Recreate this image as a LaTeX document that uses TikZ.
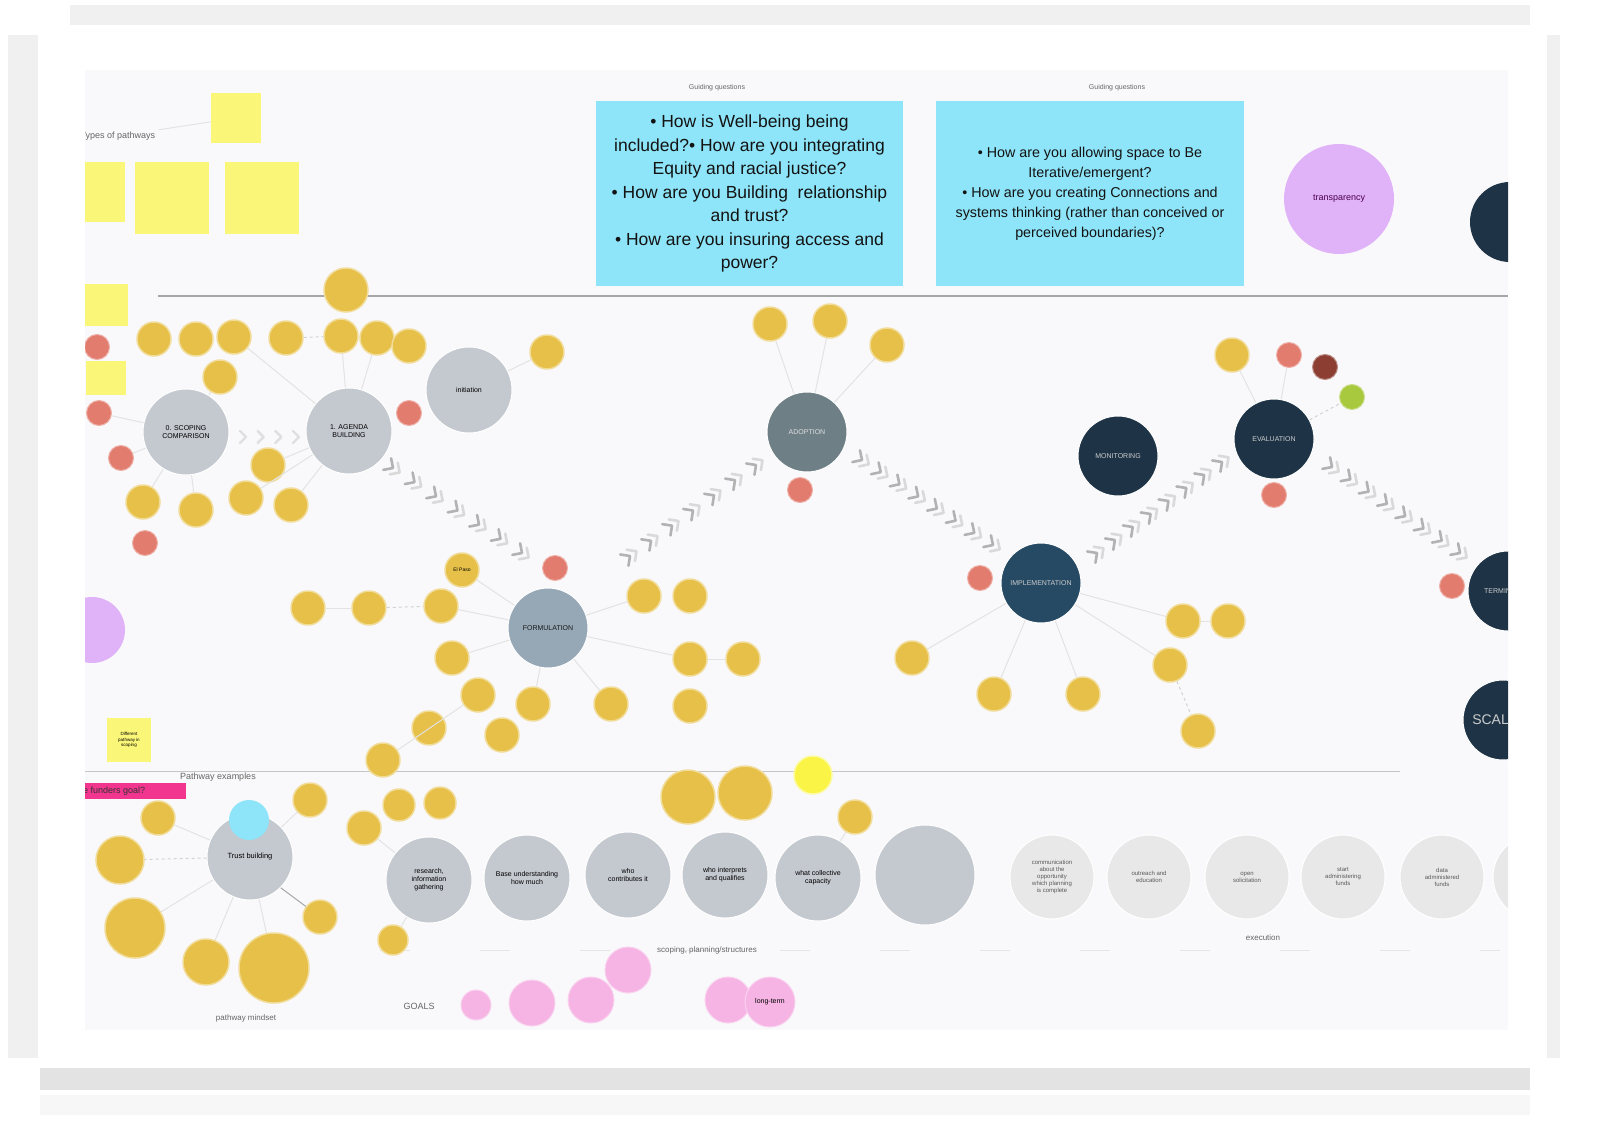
\documentclass[tikz,border=0pt]{standalone}
\usepackage{fontspec}
\setmainfont{Liberation Sans}
\usetikzlibrary{calc}

\definecolor{satyellow}{RGB}{230,192,72}
\definecolor{brightyellow}{RGB}{250,244,70}
\definecolor{salmon}{RGB}{226,124,110}
\definecolor{rust}{RGB}{140,62,50}
\definecolor{lime}{RGB}{168,200,62}
\definecolor{stickyyellow}{RGB}{250,246,120}
\definecolor{qblue}{RGB}{142,228,248}
\definecolor{lilac}{RGB}{224,178,248}
\definecolor{hubgray}{RGB}{196,200,207}
\definecolor{adoptgray}{RGB}{110,127,134}
\definecolor{formulblue}{RGB}{150,168,182}
\definecolor{navy}{RGB}{30,52,70}
\definecolor{implblue}{RGB}{38,74,99}
\definecolor{goalpink}{RGB}{246,180,228}
\definecolor{hotpink}{RGB}{242,54,143}
\definecolor{palegray}{RGB}{232,232,233}
\definecolor{board}{RGB}{249,249,251}

\tikzset{
  hub/.style={circle, fill=#1, draw=white, line width=1pt, minimum size=86pt, inner sep=0pt, align=center, font=\fontsize{7}{8}\selectfont},
  sat/.style={circle, fill=satyellow, draw=satyellow!55!white, line width=1.5pt, minimum size=#1, inner sep=0pt, align=center, font=\fontsize{4.5}{5.5}\selectfont},
  sat/.default=34pt,
  dot/.style={circle, fill=#1, draw=#1!60!white, line width=1pt, minimum size=25pt, inner sep=0pt},
  dot/.default=salmon,
  goal/.style={circle, fill=goalpink, draw=goalpink!60!white, line width=1pt, minimum size=#1, inner sep=0pt, align=center, font=\fontsize{4.5}{5.5}\selectfont},
  goal/.default=46pt,
  stickynote/.style={fill=stickyyellow, inner sep=2pt, align=center, font=\fontsize{4.5}{5.5}\selectfont},
  link/.style={draw=gray!22, line width=1pt},
  dashlink/.style={draw=gray!35, line width=1pt, dashed},
  caption/.style={font=\fontsize{8}{9}\selectfont, text=gray!80!black},
  chev/.pic={
    \draw[gray!60, line width=2.6pt, line cap=round, line join=round] (-7,7)--(0,0)--(-7,-7);
    \draw[gray!30, line width=2.6pt, line cap=round, line join=round] (1,7)--(8,0)--(1,-7);
  },
  faintchev/.pic={
    \draw[gray!25, line width=2.4pt, line cap=round, line join=round] (-5,6)--(1,0)--(-5,-6);
  }
}

\begin{document}
\begin{tikzpicture}[x=1pt, y=-1pt]
\useasboundingbox (0,0) rectangle (1605,1143);
\fill[white] (0,0) rectangle (1605,1143);
% frame bands
\fill[gray!12] (70,5) rectangle (1530,25);
\fill[gray!12] (8,35) rectangle (38,1058);
\fill[gray!12] (1547,35) rectangle (1560,1058);
\fill[gray!22] (40,1068) rectangle (1530,1090);
\fill[gray!6] (40,1095) rectangle (1530,1115);

\begin{scope}
\clip (85,70) rectangle (1508,1030);
\fill[board] (85,70) rectangle (1508,1030);

% dividing lines
\draw[gray!70, line width=1.2pt] (158,296) -- (1508,296);
\draw[gray!45, line width=1pt] (85,771) -- (1400,771);
\draw[gray!20, line width=1pt, dash pattern=on 30pt off 70pt] (380,950) -- (1500,950);

% guiding questions
\node[caption, font=\fontsize{7}{8}\selectfont] at (717,88) {Guiding questions};
\node[caption, font=\fontsize{7}{8}\selectfont] at (1117,88) {Guiding questions};
\node[fill=qblue, minimum width=307pt, minimum height=185pt, inner sep=0pt, align=center,
      font=\fontsize{17.5}{23.5}\selectfont, text=gray!15!black] (qone) at (749.5,193.5)
  {• How is Well-being being\\included?• How are you integrating\\Equity and racial justice?\\• How are you Building\ \ relationship\\and trust?\\• How are you insuring access and\\power?};
\node[fill=qblue, minimum width=308pt, minimum height=185pt, inner sep=0pt, align=center,
      font=\fontsize{14.3}{20}\selectfont, text=gray!15!black] (qtwo) at (1090,193.5)
  {• How are you allowing space to Be\\Iterative/emergent?\\• How are you creating Connections and\\systems thinking (rather than conceived or\\perceived boundaries)?};
\node[circle, fill=lilac, minimum size=110pt, font=\fontsize{9}{10}\selectfont, text=violet!60!black] (transp) at (1339,199) {transparency};
\node[circle, fill=navy, minimum size=80pt] (topright) at (1510,222) {};

% left notes
\node[caption, anchor=west, font=\fontsize{9}{10}\selectfont] (types) at (77,136) {Types of pathways};
\node[stickynote, minimum width=50pt, minimum height=50pt] (n1) at (236,118) {};
\node[stickynote, minimum width=42pt, minimum height=60pt] (n2) at (104,192) {};
\node[stickynote, minimum width=74pt, minimum height=72pt] (n3) at (172,198) {};
\node[stickynote, minimum width=74pt, minimum height=72pt] (n4) at (262,198) {};
\node[stickynote, minimum width=44pt, minimum height=42pt] (n5) at (106,305) {};
\node[stickynote, minimum width=40pt, minimum height=34pt] (n6) at (106,378) {};
\node[stickynote, minimum width=44pt, minimum height=44pt] (n7) at (129,740) {Different\\pathway in\\scoping};
\node[circle, fill=lilac, minimum size=66pt] (leftlilac) at (92,630) {};
\draw[link] (types) -- (n1);

% stages
\node[hub=hubgray] (scope) at (186,432) {0. SCOPING\\COMPARISON};
\node[hub=hubgray] (agenda) at (349,431) {1. AGENDA\\BUILDING};
\node[hub=hubgray] (init) at (469,390) {initiation};
\node[hub=adoptgray, minimum size=80pt, text=gray!25] (adopt) at (807,432) {ADOPTION};
\node[hub=formulblue, minimum size=80pt, text=gray!20!black] (formul) at (548,628) {FORMULATION};
\node[hub=navy, minimum size=80pt, text=gray!40] (monit) at (1118,456) {MONITORING};
\node[hub=navy, minimum size=80pt, text=gray!40] (evalu) at (1274,439) {EVALUATION};
\node[hub=implblue, minimum size=80pt, text=gray!40] (impl) at (1041,583) {IMPLEMENTATION};
\node[hub=navy, minimum size=80pt, text=gray!40] (term) at (1508,591) {TERMINATION};
\node[hub=navy, minimum size=80pt, text=gray!40, font=\fontsize{14}{15}\selectfont] (scal) at (1503,720) {SCALING};

% yellow satellites
\foreach \n/\x/\y in {t2/154/339, t3/196/339, t4/234/337, t5/286/338, t6/341/336, t7/377/338,
    t8/409/346, t9/220/377, t10/268/465, t11/143/502, t12/196/510, t13/246/498, t14/291/505,
    t15/547/352, d1/770/324, d2/830/321, d3/887/345, e1/1232/355,
    f1/462/570, f2/308/608, f3/369/608, f4/441/606, f5/452/658, f6/644/596, f7/690/596,
    f8/690/659, f9/743/659, f10/478/695, f11/533/704, f12/611/704, f13/690/706, f14/502/735,
    f15/429/728, f16/383/760, i1/912/658, i2/994/694, i3/1083/694, i4/1170/665, i5/1183/621,
    i6/1228/621, i7/1198/731, p1/158/818, p3/310/800, p7/320/917, p8/364/828, p14/855/817}
  \node[sat] (\n) at (\x,\y) {};
\node[sat=44pt] (t1) at (346,290) {};
\node[sat=48pt] (p2) at (120,860) {};
\node[sat=60pt] (p4) at (135,928) {};
\node[sat=46pt] (p5) at (206,962) {};
\node[sat=70pt] (p6) at (274,968) {};
\node[sat=32pt] (p9) at (399,805) {};
\node[sat=32pt] (p10) at (440,803) {};
\node[sat=30pt] (p11) at (393,940) {};
\node[sat=54pt] (p12) at (688,797) {};
\node[sat=54pt] (p13) at (745,793) {};
\node[sat=38pt, fill=brightyellow, draw=brightyellow!50!white] (p15) at (813,775) {};
\node[font=\fontsize{5}{6}\selectfont] at (f1) {El Paso};

% small coloured dots
\foreach \n/\x/\y in {r1/97/347, r2/99/413, r3/121/458, r4/145/543, r5/409/413, r6/800/490,
    r7/555/568, r8/980/578, r9/1274/495, r10/1289/355, r11/1452/586}
  \node[dot] (\n) at (\x,\y) {};
\node[dot=rust] (b1) at (1325,367) {};
\node[dot=lime] (g1) at (1352,397) {};

% satellite links
\foreach \a/\b in {scope/t9, scope/t11, scope/t12, scope/r2, scope/r3, agenda/t6, agenda/t7,
    agenda/t4, agenda/t13, agenda/t14, agenda/t10, init/t15, adopt/d1, adopt/d2, adopt/d3,
    evalu/e1, evalu/r10, formul/f1, formul/f4, formul/f5, formul/f11, formul/f12,
    formul/f6, formul/f8, f8/f9, f2/f3, f10/f16, impl/i1, impl/i2, impl/i3, impl/i4,
    impl/i5, i5/i6}
  \draw[link] (\a) -- (\b);
\draw[dashlink] (f3) -- (f4);
\draw[dashlink] (evalu) -- (g1);
\draw[dashlink] (i4) -- (i7);
\draw[dashlink] (t5) -- (t6);

% chevron chains
\coordinate (ch1-s) at (245,437);  \coordinate (ch1-e) at (298,437);
\coordinate (ch2-s) at (393,468);  \coordinate (ch2-e) at (522,553);
\coordinate (ch3-s) at (630,556);  \coordinate (ch3-e) at (756,465);
\coordinate (ch4-s) at (862,460);  \coordinate (ch4-e) at (993,545);
\coordinate (ch5-s) at (1097,553); \coordinate (ch5-e) at (1222,462);
\coordinate (ch6-s) at (1332,467); \coordinate (ch6-e) at (1460,553);
\foreach \k in {0,...,3}
  \path ($(ch1-s)!{\k/3}!(ch1-e)$) pic {faintchev};
\foreach \c/\m/\r in {ch2/6/-34, ch3/6/36, ch4/7/-33, ch5/7/36, ch6/7/-34}
  \foreach \k in {0,...,\m}
    \path ($(\c-s)!{\k/\m}!(\c-e)$) pic[rotate=\r] {chev};

% pathway examples
\node[caption, font=\fontsize{9}{10}\selectfont] (pathex) at (218,777) {Pathway examples};
\fill[hotpink] (70,783) rectangle (186,799);
\node[anchor=west, font=\fontsize{9}{10}\selectfont, text=black!80] (fgoal) at (72,791) {the funders goal?};
\node[hub=hubgray, font=\fontsize{7.5}{8.5}\selectfont] (trust) at (250,857) {Trust building};
\node[circle, fill=qblue, minimum size=40pt] (trustcap) at (249,820) {};
\foreach \b in {p1, p3, p4, p5, p6}
  \draw[link] (trust) -- (\b);
\draw[dashlink] (trust) -- (p2);
\draw[gray!70, line width=1pt] (trust.south east) -- (p7);

% planning row
\node[hub=hubgray] (research) at (429,880) {research,\\information\\gathering};
\node[hub=hubgray] (baseund) at (527,878) {Base understanding\\how much};
\node[hub=hubgray] (contrib) at (628,875) {who\\contributes it};
\node[hub=hubgray] (interp) at (725,875) {who interprets\\and qualifies};
\node[hub=hubgray] (capac) at (818,878) {what collective\\capacity};
\node[hub=hubgray, minimum size=100pt] (bigrow) at (925,875) {};
\draw[link] (research) -- (p8);
\draw[link] (research) -- (p11);
\draw[link] (capac) -- (p14);
\node[caption] (scoplab) at (707,950) {scoping, planning/structures};

% execution row
\foreach \n/\x/\t in {q1/1052/{communication\\about the\\opportunity\\which planning\\is complete},
    q2/1149/{outreach and\\education}, q3/1247/{open\\solicitation},
    q4/1343/{start\\administering\\funds}, q5/1442/{data\\administered\\funds}, q6/1535/{}}
  \node[hub=palegray, minimum size=84pt, font=\fontsize{6}{7}\selectfont, text=gray!70!black] (\n) at (\x,877) {\t};
\node[caption] (execlab) at (1263,938) {execution};

% goals
\node[caption, font=\fontsize{9}{10}\selectfont] (goals) at (419,1006) {GOALS};
\node[goal=30pt] (k1) at (476,1005) {};
\node[goal] (k2) at (532,1003) {};
\node[goal] (k3) at (591,1000) {};
\node[goal] (k4) at (628,970) {};
\node[goal] (k5) at (728,1000) {};
\node[goal=50pt, font=\fontsize{7}{8}\selectfont] (k6) at (770,1002) {long-term};
\node[caption] (mindset) at (246,1018) {pathway mindset};
\end{scope}
\end{tikzpicture}
\end{document}
